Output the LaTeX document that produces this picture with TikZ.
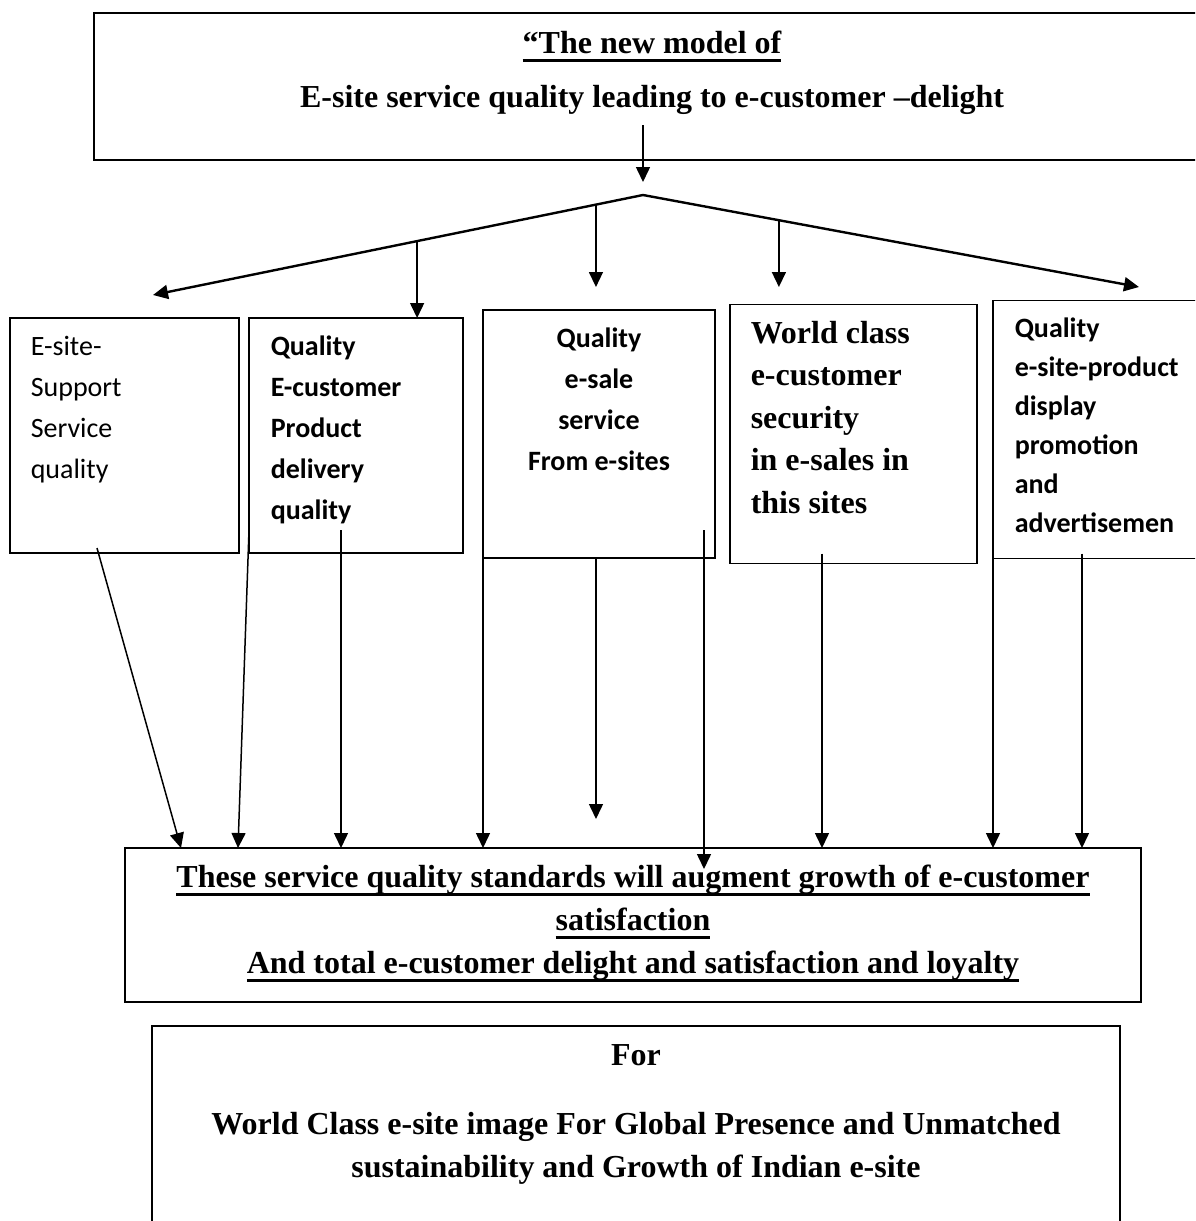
\documentclass[tikz,border=0pt]{standalone}
\usepackage{fontspec}
\setmainfont{Liberation Serif}
\newfontfamily\calibri{Carlito}
\usetikzlibrary{positioning, arrows.meta}
\newcommand{\ulthick}[1]{\setbox0\hbox{#1}\rlap{\rule[-9pt]{\wd0}{3pt}}\box0}
\tikzset{
	->,
	>={Triangle[length=15pt, width=14pt]},
	frame/.style={draw, line width=1.6pt, inner sep=0pt, outer sep=0pt},
	branch/.style={line width=2.4pt},
	serif/.style={font=\bfseries\fontsize{32}{43}\selectfont, align=center, inner sep=0pt, anchor=base},
	sans/.style={font=\calibri\fontsize{28}{41}\selectfont, align=left, inner sep=0pt, anchor=base west},
	sansbf/.style={sans, font=\calibri\bfseries\fontsize{28}{41}\selectfont}}

\begin{document}
\begin{tikzpicture}[x=1pt, y=-1pt, line width=1.5pt]
		\clip (0,0) rectangle (1195,1221);
		\node[frame, line width=2pt, minimum width=1112pt, minimum height=147pt, anchor=north west] (model) at (94,13) {};
		\node[serif, font=\bfseries\fontsize{32}{54}\selectfont] (title) at ([xshift=558pt, yshift=-94pt]model.north west) {\ulthick{“The new model of}\\E-site service quality leading to e-customer –delight};
		
		\node[frame, minimum width=229pt, minimum height=235pt] (b1) at (124.5,435.5) {};
		\node[frame, minimum width=214pt, minimum height=235pt, right=10pt of b1] (b2) {};
		\node[frame, minimum width=232pt, minimum height=248pt, right=20pt of b2, yshift=1.5pt] (b3) {};
		\node[frame, minimum width=247pt, minimum height=259pt, right=15pt of b3] (b4) {};
		\node[frame, minimum width=230pt, minimum height=258pt, right=16pt of b4, yshift=4.5pt] (b5) {};
		
		% labels sit on their last baseline
		\node[sans] (t1) at ([xshift=20pt, yshift=-160pt]b1.north west) {E-site-\\Support\\Service\\quality};
		\node[sansbf] (t2) at ([xshift=21pt, yshift=-201pt]b2.north west) {Quality\\E-customer\\Product\\delivery\\quality};
		\node[sansbf, align=center, anchor=base] (t3) at ([yshift=-160pt]b3.north) {Quality\\e-sale\\service\\From e-sites};
		\node[serif, align=left, anchor=base west, font=\bfseries\fontsize{32}{42.5}\selectfont] (t4) at ([xshift=20pt, yshift=-208.5pt]b4.north west) {World class\\e-customer\\security\\in e-sales in\\this sites};
		\node[sansbf, font=\calibri\bfseries\fontsize{28}{39}\selectfont] (t5) at ([xshift=21pt, yshift=-231.5pt]b5.north west) {Quality\\e-site-product\\display\\promotion\\and\\advertisemen};
		
		\node[frame, minimum width=1016pt, minimum height=154pt, anchor=north west] (sat) at (125,848) {};
		\node[serif] (sattxt) at ([yshift=-125pt]sat.north) {\ulthick{These service quality standards will augment growth of e-customer}\\\ulthick{satisfaction}\\\ulthick{And total e-customer delight and satisfaction and loyalty}};
		
		\node[frame, minimum width=968pt, minimum height=240pt, anchor=north west] (glob) at (152,1026) {};
		\node[serif] (globtxt) at ([yshift=-151pt]glob.north) {For\\[26pt]World Class e-site image For Global Presence and Unmatched\\sustainability and Growth of Indian e-site};
		
		% split under the title box
		\coordinate (drop) at (643,125);
		\coordinate (hub) at (643,195);
		\coordinate (lt) at (153,295);
		\coordinate (rt) at (1139,287);
		\draw (drop) -- ([yshift=13pt]hub);
		\draw[branch] (hub) -- (lt);
		\draw[branch] (hub) -- (rt);
		\path (hub) -- (lt) coordinate[pos=0.461] (l1) coordinate[pos=0.096] (l2);
		\path (hub) -- (rt) coordinate[pos=0.274] (r1);
		\draw (l1) -- (l1 |- b2.north);
		\draw (l2) -- (l2 |- rt);
		\draw (r1) -- (r1 |- rt);
		
		% down to the standards box
		\coordinate (s1) at ([xshift=87pt, yshift=5pt]b1.south west);
		\coordinate (s2) at ([yshift=23pt]b2.south west);
		\coordinate (s3) at ([xshift=92pt, yshift=23pt]b2.south west);
		\coordinate (s4) at ([yshift=13pt]b3.south west);
		\coordinate (s5) at ([xshift=113pt, yshift=1pt]b3.south west);
		\coordinate (s6) at ([xshift=221pt, yshift=28pt]b3.south west);
		\coordinate (s7) at ([xshift=92pt, yshift=10pt]b4.south west);
		\coordinate (s8) at ([yshift=5pt]b5.south west);
		\coordinate (s9) at ([xshift=89pt, yshift=5pt]b5.south west);
		\coordinate (e5) at (596,819);
		\coordinate (e6) at (704,869);
		\draw (s1) -- ([xshift=56pt]sat.north west);
		\draw (s2) -- ([xshift=113pt]sat.north west);
		\draw (s3) -- (s3 |- sat.north);
		\draw (s4) -- (s4 |- sat.north);
		\draw (s5) -- (e5);
		\draw (s6) -- (e6);
		\draw (s7) -- (s7 |- sat.north);
		\draw (s8) -- (s8 |- sat.north);
		\draw (s9) -- (s9 |- sat.north);
	\end{tikzpicture}
\end{document}
